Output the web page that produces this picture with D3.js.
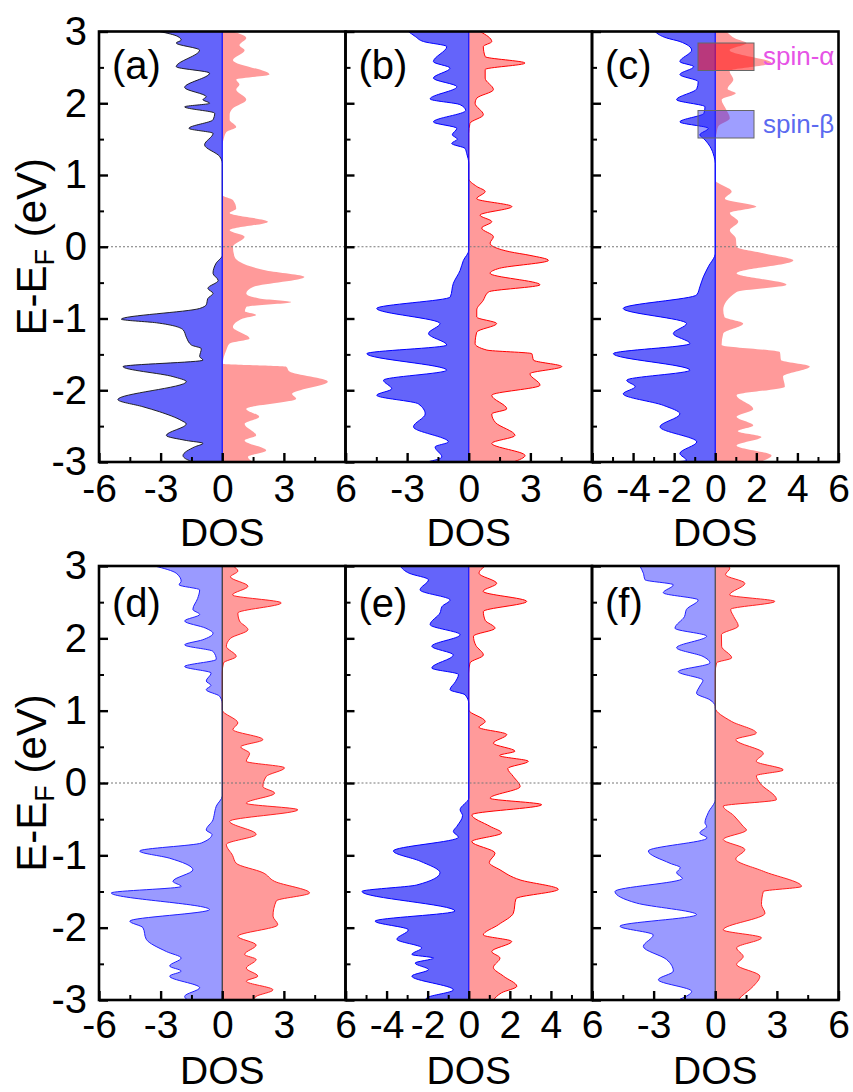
<!DOCTYPE html>
<html>
<head>
<meta charset="utf-8">
<script src="https://cdn.jsdelivr.net/npm/d3@7"></script>
<style>
  body { margin: 0; background: #fff; }
  svg { display: block; }
  text { font-family: Arial, "Liberation Sans", sans-serif; fill: #000; }
</style>
</head>
<body>
<svg id="chart" width="853" height="1092"></svg>
<script>
// DOS, pairs of [E - EF (eV), DOS], top to bottom
const aAlpha = [[3.0,0.52],[2.91,1.17],[2.81,0.84],[2.74,1.09],[2.6,0.52],[2.4,2.3],[2.33,0.68],[2.26,0.84],[2.19,0.68],[2.05,1.17],[1.93,0.52],[1.84,0.36],[1.77,0.36],[1.67,0.68],[1.6,0.2],[1.49,0.06],[1.4,0],[0.72,0],[0.65,0.52],[0.53,0.68],[0.47,0.36],[0.35,2.22],[0.23,0.36],[0.14,1.09],[0.0,0.52],[-0.14,0.6],[-0.33,2.14],[-0.42,4.0],[-0.56,1.5],[-0.65,1.17],[-0.72,1.8],[-0.77,3.36],[-0.84,1.17],[-0.9,1.1],[-0.95,1.65],[-1.0,1.0],[-1.12,0.52],[-1.28,1.33],[-1.35,0.36],[-1.44,0.2],[-1.63,0.03],[-1.67,3.1],[-1.74,3.28],[-1.88,5.14],[-2.05,3.4],[-2.12,3.6],[-2.26,1.17],[-2.37,1.8],[-2.47,1.09],[-2.63,1.65],[-2.7,1.09],[-2.84,2.14],[-2.93,1.25],[-3.0,1.5]];
const aBeta = [[3.0,-3.05],[2.93,-2.16],[2.88,-2.0],[2.84,-2.24],[2.74,-1.1],[2.51,-2.24],[2.42,-0.62],[2.22,-1.83],[2.09,-0.78],[2.05,-0.94],[2.0,-0.62],[1.95,-1.83],[1.86,-0.37],[1.77,-0.45],[1.65,-1.62],[1.58,-0.45],[1.42,-0.86],[1.26,-0.13],[1.16,0],[-0.12,0],[-0.23,-0.3],[-0.37,-0.45],[-0.47,-0.2],[-0.58,-0.7],[-0.65,-0.45],[-0.72,-0.7],[-0.81,-0.78],[-0.86,-1.1],[-1.01,-4.91],[-1.06,-3.2],[-1.16,-1.9],[-1.26,-1.75],[-1.37,-1.5],[-1.42,-1.02],[-1.53,-1.1],[-1.58,-0.94],[-1.67,-4.83],[-1.81,-2.4],[-1.88,-1.75],[-2.13,-5.08],[-2.23,-3.86],[-2.3,-3.05],[-2.42,-2.0],[-2.47,-1.75],[-2.63,-2.72],[-2.7,-1.75],[-2.74,-0.94],[-2.79,-1.35],[-2.91,-1.91],[-2.98,-1.6],[-3.0,-1.3]];

const bAlpha = [[3.0,0.55],[2.86,1.12],[2.79,0.71],[2.65,0.8],[2.56,2.74],[2.47,0.8],[2.35,0.8],[2.19,1.2],[2.07,0.39],[2.0,0.31],[1.84,0.71],[1.72,0.06],[1.58,0],[0.95,0],[0.84,0.39],[0.77,0.8],[0.67,0.39],[0.56,2.1],[0.44,0.55],[0.35,1.12],[0.26,0.63],[0.14,1.2],[0.05,1.04],[-0.07,2.0],[-0.12,2.98],[-0.19,3.88],[-0.3,1.5],[-0.37,1.04],[-0.53,3.47],[-0.63,0.96],[-0.75,0.7],[-0.88,0.39],[-0.98,0.39],[-1.07,1.36],[-1.19,0.39],[-1.35,0.31],[-1.44,0.88],[-1.49,3.07],[-1.58,3.15],[-1.67,4.53],[-1.77,2.98],[-1.93,3.47],[-2.07,1.12],[-2.26,1.85],[-2.33,1.12],[-2.45,1.3],[-2.63,2.25],[-2.74,1.12],[-2.91,2.74],[-3.0,2.17]];
const bBeta = [[3.0,-2.94],[2.93,-2.6],[2.86,-2.2],[2.79,-1.07],[2.58,-1.72],[2.49,-0.91],[2.35,-1.72],[2.23,-0.58],[2.06,-1.88],[1.98,-0.42],[1.9,-0.15],[1.74,-1.72],[1.65,-0.58],[1.56,-0.8],[1.5,-0.55],[1.44,-0.83],[1.37,-0.18],[1.3,-0.1],[1.16,0],[-0.05,0],[-0.19,-0.26],[-0.33,-0.42],[-0.51,-0.75],[-0.7,-0.9],[-0.86,-4.48],[-1.07,-1.4],[-1.21,-1.96],[-1.37,-1.07],[-1.49,-4.96],[-1.72,-1.07],[-1.86,-4.15],[-1.98,-3.75],[-2.07,-4.48],[-2.19,-2.45],[-2.33,-2.12],[-2.51,-2.69],[-2.72,-0.99],[-2.79,-1.64],[-2.93,-1.31],[-3.0,-2.04]];

const cAlpha = [[3.0,0.55],[2.9,1.0],[2.84,1.52],[2.74,0.7],[2.56,2.74],[2.45,0.7],[2.33,0.88],[2.2,0.6],[2.14,1.0],[2.05,0.31],[1.93,0.5],[1.79,0.71],[1.68,0.15],[1.58,0.06],[1.5,0],[0.93,0],[0.77,0.8],[0.67,0.47],[0.56,2.0],[0.47,0.71],[0.35,1.12],[0.23,0.71],[0.12,1.0],[0.0,1.04],[-0.1,2.5],[-0.19,3.8],[-0.37,1.04],[-0.53,3.47],[-0.63,1.04],[-0.88,0.39],[-0.98,0.45],[-1.07,1.36],[-1.21,0.39],[-1.37,0.31],[-1.47,3.15],[-1.58,3.2],[-1.67,4.6],[-1.81,3.3],[-1.95,3.39],[-2.07,1.04],[-2.26,1.85],[-2.37,1.04],[-2.49,1.85],[-2.57,1.1],[-2.65,2.25],[-2.77,1.04],[-2.91,2.74],[-3.0,2.17]];
const cBeta = [[3.0,-2.94],[2.91,-2.37],[2.86,-1.72],[2.74,-1.15],[2.58,-1.72],[2.51,-1.05],[2.4,-1.72],[2.3,-0.83],[2.2,-0.9],[2.05,-1.88],[1.95,-0.5],[1.86,-0.55],[1.74,-1.72],[1.65,-0.34],[1.56,-0.75],[1.49,-0.5],[1.4,-0.26],[1.26,-0.06],[1.16,0],[-0.09,0],[-0.28,-0.34],[-0.42,-0.58],[-0.56,-0.75],[-0.67,-0.9],[-0.86,-4.48],[-1.07,-1.4],[-1.21,-2.04],[-1.35,-1.23],[-1.49,-4.96],[-1.72,-1.23],[-1.86,-4.31],[-1.95,-3.9],[-2.05,-4.48],[-2.21,-2.53],[-2.33,-1.72],[-2.51,-2.69],[-2.72,-0.9],[-2.88,-1.72],[-2.98,-1.4],[-3.0,-2.04]];

const dAlpha = [[3.0,0.52],[2.93,0.76],[2.85,0.4],[2.72,1.25],[2.6,0.5],[2.49,2.87],[2.35,0.76],[2.24,0.84],[2.12,1.25],[2.0,0.4],[1.89,0.2],[1.75,0.68],[1.66,0.06],[1.52,0],[1.01,0],[0.83,0.76],[0.74,0.52],[0.6,1.98],[0.5,0.9],[0.41,1.33],[0.3,1.17],[0.21,3.03],[0.09,2.14],[-0.05,1.98],[-0.14,2.55],[-0.28,1.17],[-0.37,3.68],[-0.53,0.36],[-0.71,1.65],[-0.85,0.2],[-1.0,0.5],[-1.11,0.68],[-1.24,1.98],[-1.36,2.55],[-1.52,4.25],[-1.63,2.63],[-1.84,2.47],[-1.96,2.7],[-2.12,0.76],[-2.24,1.65],[-2.37,1.09],[-2.44,1.65],[-2.56,1.17],[-2.67,1.73],[-2.74,1.17],[-2.86,2.47],[-2.95,1.65],[-3.0,1.5]];
const dBeta = [[3.0,-3.29],[2.9,-2.24],[2.79,-2.0],[2.74,-2.1],[2.67,-1.1],[2.55,-1.2],[2.4,-1.43],[2.33,-1.1],[2.24,-1.83],[2.14,-0.8],[2.07,-0.45],[1.98,-0.95],[1.91,-1.83],[1.82,-0.45],[1.71,-0.29],[1.61,-1.83],[1.52,-0.54],[1.41,-0.78],[1.35,-0.55],[1.29,-0.78],[1.2,-0.13],[1.1,0],[-0.18,0],[-0.32,-0.29],[-0.45,-0.4],[-0.51,-0.45],[-0.65,-0.78],[-0.71,-0.5],[-0.83,-1.02],[-0.94,-4.02],[-1.04,-2.56],[-1.2,-1.43],[-1.36,-2.4],[-1.43,-2.0],[-1.52,-5.4],[-1.75,-0.62],[-1.91,-4.5],[-2.0,-3.86],[-2.16,-3.7],[-2.33,-2.72],[-2.42,-2.0],[-2.53,-2.56],[-2.6,-2.0],[-2.67,-2.56],[-2.83,-1.1],[-2.95,-1.83],[-3.0,-1.7]];

const eAlpha = [[3.0,0.8],[2.9,0.5],[2.76,1.36],[2.65,0.7],[2.51,2.82],[2.37,0.71],[2.25,0.8],[2.14,1.28],[2.03,0.23],[1.9,0.35],[1.77,0.71],[1.66,0.06],[1.52,0],[1.01,0],[0.85,0.8],[0.77,0.5],[0.67,1.85],[0.55,1.2],[0.44,2.25],[0.38,1.5],[0.3,2.9],[0.2,1.9],[0.09,2.17],[-0.05,2.5],[-0.21,1.04],[-0.3,3.55],[-0.44,0.15],[-0.6,1.04],[-0.69,1.6],[-0.81,0.15],[-0.97,1.28],[-1.1,1.0],[-1.2,1.52],[-1.34,2.5],[-1.47,4.36],[-1.6,2.3],[-1.8,2.17],[-1.96,1.44],[-2.1,0.71],[-2.19,2.09],[-2.33,1.12],[-2.42,1.52],[-2.55,1.2],[-2.67,1.69],[-2.81,2.34],[-2.9,1.6],[-3.0,1.2]];
const eBeta = [[3.0,-3.34],[2.9,-2.9],[2.81,-1.96],[2.67,-2.37],[2.53,-0.91],[2.44,-1.3],[2.35,-1.4],[2.19,-1.88],[2.05,-0.42],[1.89,-1.8],[1.77,-0.75],[1.59,-1.8],[1.5,-0.5],[1.4,-0.65],[1.29,-0.91],[1.22,-0.18],[1.1,0],[-0.21,0],[-0.37,-0.42],[-0.45,-0.3],[-0.6,-0.58],[-0.67,-0.75],[-0.75,-0.5],[-0.94,-3.67],[-1.08,-2.37],[-1.24,-1.4],[-1.41,-2.53],[-1.5,-5.2],[-1.77,-0.67],[-1.91,-4.56],[-2.03,-2.94],[-2.16,-3.5],[-2.28,-2.29],[-2.37,-2.77],[-2.42,-1.72],[-2.49,-2.61],[-2.58,-1.96],[-2.67,-2.77],[-2.86,-0.75],[-2.97,-2.04],[-3.0,-2.1]];

const fAlpha = [[3.0,0.6],[2.97,0.71],[2.88,0.5],[2.76,1.44],[2.6,0.7],[2.51,2.9],[2.4,0.75],[2.3,0.9],[2.17,1.12],[2.05,0.3],[1.89,0.31],[1.73,0.8],[1.66,0.06],[1.52,0],[1.04,0],[0.85,0.8],[0.69,2.0],[0.6,1.0],[0.41,2.34],[0.3,2.0],[0.18,3.31],[0.1,2.0],[0.0,2.17],[-0.23,2.98],[-0.32,0.39],[-0.45,0.9],[-0.6,1.36],[-0.65,1.52],[-0.78,0.39],[-0.92,1.44],[-1.05,1.0],[-1.22,2.34],[-1.43,4.2],[-1.5,2.34],[-1.68,2.25],[-1.8,2.42],[-2.03,0.39],[-2.14,2.25],[-2.28,1.04],[-2.4,1.36],[-2.51,1.04],[-2.67,2.17],[-2.81,1.85],[-2.95,1.28],[-3.0,1.1]];
const fBeta = [[3.0,-3.67],[2.9,-3.5],[2.81,-3.42],[2.74,-2.04],[2.63,-2.53],[2.53,-0.83],[2.4,-1.4],[2.3,-1.5],[2.14,-1.96],[2.03,-0.42],[1.87,-1.88],[1.75,-0.6],[1.66,-0.26],[1.54,-1.8],[1.42,-0.6],[1.34,-0.75],[1.24,-0.91],[1.15,-0.26],[1.06,0],[-0.23,0],[-0.41,-0.34],[-0.55,-0.5],[-0.6,-0.42],[-0.69,-0.75],[-0.76,-0.4],[-0.94,-3.26],[-1.11,-2.2],[-1.17,-1.7],[-1.24,-1.88],[-1.32,-1.6],[-1.5,-4.88],[-1.66,-3.83],[-1.82,-0.91],[-1.98,-4.64],[-2.1,-3.02],[-2.26,-3.5],[-2.44,-2.37],[-2.6,-2.04],[-2.72,-2.77],[-2.88,-1.15],[-2.99,-1.72]];

// tick values
const energyTicks = [-3, -2, -1, 0, 1, 2, 3];
const energyMinor = [-2.5, -1.5, -0.5, 0.5, 1.5, 2.5];
const dosTicks3 = [-6, -3, 0, 3, 6];
const dosMinor3 = [-4.5, -1.5, 1.5, 4.5];
const dosTicks2 = [-6, -4, -2, 0, 2, 4, 6];
const dosMinor2 = [-5, -3, -1, 1, 3, 5];
const legendLabels = ['spin-\u03b1', 'spin-\u03b2'];

// layout
const colX = [99, 345.5, 592];
const panelW = 246.5;
const rowY = [31.5, 566];
const panelH = [430.5, 434];
const labelPad = [12, 10];

const svg = d3.select('#chart');
const defs = svg.append('defs');

const panels = [
	{ tag: '(a)', row: 0, col: 0, alpha: aAlpha, beta: aBeta, step: 3,
		betaFill: '#6464fa', betaLine: '#111', alphaLine: 'none', zero: '#1010ff' },
	{ tag: '(b)', row: 0, col: 1, alpha: bAlpha, beta: bBeta, step: 3,
		betaFill: '#6464fa', betaLine: '#0000ff', alphaLine: '#ff0000', zero: '#1010ff' },
	{ tag: '(c)', row: 0, col: 2, alpha: cAlpha, beta: cBeta, step: 2,
		betaFill: '#6464fa', betaLine: '#0000ff', alphaLine: 'none', zero: '#1010ff', legend: true },
	{ tag: '(d)', row: 1, col: 0, alpha: dAlpha, beta: dBeta, step: 3,
		betaFill: '#9a9aff', betaLine: '#2020ff', alphaLine: '#ff2020', zero: '#333' },
	{ tag: '(e)', row: 1, col: 1, alpha: eAlpha, beta: eBeta, step: 2,
		betaFill: '#6464fa', betaLine: '#0000ff', alphaLine: '#ff0000', zero: '#1010ff' },
	{ tag: '(f)', row: 1, col: 2, alpha: fAlpha, beta: fBeta, step: 3,
		betaFill: '#9a9aff', betaLine: '#2020ff', alphaLine: '#ff2020', zero: '#444' }
];

panels.forEach(function(p, i) {
	const left = colX[p.col];
	const top = rowY[p.row];
	const h = panelH[p.row];

	const x = d3.scaleLinear().domain([-6, 6]).range([left, left + panelW]);
	const y = d3.scaleLinear().domain([-3, 3]).range([top + h, top]);

	const clipId = 'clip' + i;
	defs.append('clipPath').attr('id', clipId)
		.append('rect')
		.attr('x', left).attr('y', top)
		.attr('width', panelW).attr('height', h);

	const g = svg.append('g');
	const plot = g.append('g').attr('clip-path', 'url(#' + clipId + ')');

	const area = d3.area()
		.curve(d3.curveMonotoneY)
		.y(function(d) { return y(d[0]); })
		.x0(x(0))
		.x1(function(d) { return x(d[1]); });

	const edge = d3.line()
		.curve(d3.curveMonotoneY)
		.x(function(d) { return x(d[1]); })
		.y(function(d) { return y(d[0]); });

	// fills
	plot.append('path').datum(p.alpha)
		.attr('d', area)
		.attr('fill', '#ff9a9a');
	plot.append('path').datum(p.beta)
		.attr('d', area)
		.attr('fill', p.betaFill);

	// outlines
	if (p.alphaLine !== 'none') {
		plot.append('path').datum(p.alpha)
			.attr('d', edge)
			.attr('fill', 'none')
			.attr('stroke', p.alphaLine)
			.attr('stroke-width', 1);
	}
	plot.append('path').datum(p.beta)
		.attr('d', edge)
		.attr('fill', 'none')
		.attr('stroke', p.betaLine)
		.attr('stroke-width', p.betaLine === '#111' ? 0.9 : 1);

	// zero DOS line and Fermi level
	plot.append('line')
		.attr('x1', x(0)).attr('x2', x(0))
		.attr('y1', top).attr('y2', top + h)
		.attr('stroke', p.zero).attr('stroke-width', 1.2);
	plot.append('line')
		.attr('x1', left).attr('x2', left + panelW)
		.attr('y1', y(0)).attr('y2', y(0))
		.attr('stroke', '#777').attr('stroke-width', 1)
		.attr('stroke-dasharray', '2,2');

	// legend in panel (c)
	if (p.legend) {
		const lg = g.append('g');
		const boxes = [
			{ fill: 'rgba(255,20,20,0.55)', color: '#e653e6' },
			{ fill: 'rgba(40,40,255,0.45)', color: '#5b6af0' }
		];
		legendLabels.forEach(function(label, k) {
			const by = top + 11.5 + k * 67.5;
			lg.append('rect')
				.attr('x', left + 106).attr('y', by)
				.attr('width', 56).attr('height', 27.5)
				.attr('fill', boxes[k].fill)
				.attr('stroke', '#666').attr('stroke-width', 1);
			lg.append('text')
				.attr('x', left + 171).attr('y', by + 22)
				.style('font-size', '26px')
				.style('fill', boxes[k].color)
				.text(label);
		});
	}

	// frame
	g.append('rect')
		.attr('x', left).attr('y', top)
		.attr('width', panelW).attr('height', h)
		.attr('fill', 'none').attr('stroke', '#000').attr('stroke-width', 2.6);

	// ticks (inward)
	const xMajor = p.step === 3 ? dosTicks3 : dosTicks2;
	const xMinor = p.step === 3 ? dosMinor3 : dosMinor2;

	g.append('g').attr('transform', 'translate(' + left + ',0)')
		.call(d3.axisLeft(y).tickValues(energyTicks).tickSize(-9).tickFormat(''))
		.call(function(s) { s.select('.domain').remove(); s.selectAll('line').attr('stroke-width', 2.4); });
	g.append('g').attr('transform', 'translate(' + left + ',0)')
		.call(d3.axisLeft(y).tickValues(energyMinor).tickSize(-5).tickFormat(''))
		.call(function(s) { s.select('.domain').remove(); s.selectAll('line').attr('stroke-width', 2); });
	g.append('g').attr('transform', 'translate(0,' + (top + h) + ')')
		.call(d3.axisBottom(x).tickValues(xMajor).tickSize(-9).tickFormat(''))
		.call(function(s) { s.select('.domain').remove(); s.selectAll('line').attr('stroke-width', 2.4); });
	g.append('g').attr('transform', 'translate(0,' + (top + h) + ')')
		.call(d3.axisBottom(x).tickValues(xMinor).tickSize(-5).tickFormat(''))
		.call(function(s) { s.select('.domain').remove(); s.selectAll('line').attr('stroke-width', 2); });

	// x tick labels (left panels show -6, others start after it)
	const xLabels = p.col === 0 ? xMajor : xMajor.filter(function(v) { return v !== -6; });
	g.append('g').attr('transform', 'translate(0,' + (top + h) + ')')
		.call(d3.axisBottom(x).tickValues(xLabels).tickSize(0).tickPadding(labelPad[p.row])
			.tickFormat(function(d) { return String(d); }))
		.call(function(s) {
			s.select('.domain').remove();
			s.selectAll('text').style('font-size', '39px').attr('dy', '0.71em')
				.attr('font-family', null);
		});

	// y tick labels only on the left column
	if (p.col === 0) {
		g.append('g').attr('transform', 'translate(' + left + ',0)')
			.call(d3.axisLeft(y).tickValues(energyTicks).tickSize(0).tickPadding(12)
				.tickFormat(function(d) { return String(d); }))
			.call(function(s) {
				s.select('.domain').remove();
				s.selectAll('text').style('font-size', '40px').attr('font-family', null);
			});

		const yt = g.append('text')
			.attr('transform', 'translate(46,' + (top + h / 2) + ') rotate(-90)')
			.attr('text-anchor', 'middle')
			.style('font-size', '42px');
		yt.append('tspan').text('E-E');
		yt.append('tspan').attr('dy', 8).style('font-size', '27px').text('F');
		yt.append('tspan').attr('dy', -8).text(' (eV)');
	}

	// axis title
	g.append('text')
		.attr('x', x(0)).attr('y', top + h + 83.5)
		.attr('text-anchor', 'middle')
		.style('font-size', '39px')
		.text('DOS');

	// panel tag
	g.append('text')
		.attr('x', left + 13).attr('y', top + (p.row === 0 ? 47 : 51))
		.style('font-size', '40px')
		.text(p.tag);
});
</script>
</body>
</html>
